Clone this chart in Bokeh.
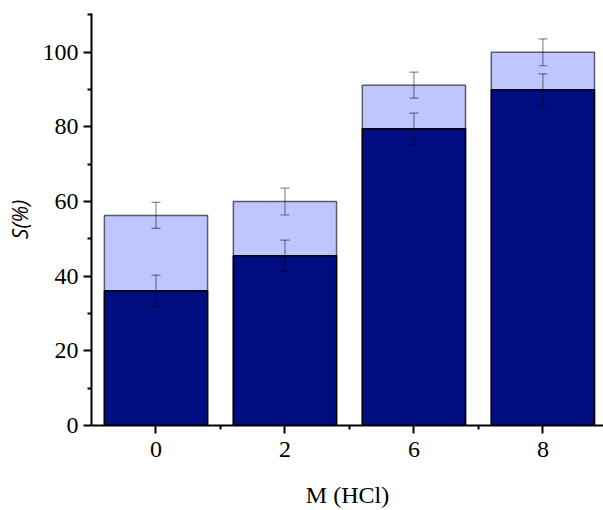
from bokeh.plotting import figure
from bokeh.models import Range1d, FixedTicker, ColumnDataSource, Whisker, TeeHead
from bokeh.embed import file_html
from bokeh.resources import INLINE

categories = ["0", "2", "6", "8"]
dark_values = [36.1, 45.5, 79.5, 90.0]
dark_errors = [4.2, 4.2, 4.2, 4.2]
total_values = [56.3, 60.0, 91.2, 100.0]
total_errors = [3.5, 3.6, 3.5, 3.6]
y_ticks = [0, 20, 40, 60, 80, 100]
y_minor = [10, 30, 50, 70, 90, 110]

xs = list(range(len(categories)))

p = figure(width=603, height=510, output_backend="svg", toolbar_location=None,
           x_range=Range1d(-0.5, 3.47), y_range=Range1d(0, 110.4),
           min_border_left=91, min_border_right=0, min_border_top=13, min_border_bottom=84)
p.outline_line_color = None
p.grid.visible = False
p.background_fill_color = "white"

p.vbar(x=xs, top=total_values, bottom=0, width=0.8, fill_color="#bdc6fe",
       line_color="#5a5a6a", line_width=1.5)
p.vbar(x=xs, top=dark_values, bottom=0, width=0.8, fill_color="#000d80",
       line_color="#000000", line_width=1.5)

src_t = ColumnDataSource(dict(x=xs, lo=[v - e for v, e in zip(total_values, total_errors)],
                              hi=[v + e for v, e in zip(total_values, total_errors)]))
src_d = ColumnDataSource(dict(x=xs, lo=[v - e for v, e in zip(dark_values, dark_errors)],
                              hi=[v + e for v, e in zip(dark_values, dark_errors)]))
for src in (src_t, src_d):
    w = Whisker(base="x", lower="lo", upper="hi", source=src, line_color="black",
                line_alpha=0.45, line_width=1.2, level="overlay",
                upper_head=TeeHead(size=9, line_color="black", line_alpha=0.45, line_width=1.2),
                lower_head=TeeHead(size=9, line_color="black", line_alpha=0.45, line_width=1.2))
    p.add_layout(w)

serif = "Liberation Serif"
p.xaxis.ticker = FixedTicker(ticks=xs, minor_ticks=[0.5, 1.5, 2.5])
p.xaxis.major_label_overrides = {i: c for i, c in enumerate(categories)}
p.yaxis.ticker = FixedTicker(ticks=y_ticks, minor_ticks=y_minor)

for ax in (p.xaxis, p.yaxis):
    ax.axis_line_width = 2
    ax.axis_line_color = "black"
    ax.major_tick_line_width = 2
    ax.minor_tick_line_width = 2
    ax.major_tick_line_color = "black"
    ax.minor_tick_line_color = "black"
    ax.major_tick_in = 0
    ax.major_tick_out = 8
    ax.minor_tick_in = 0
    ax.minor_tick_out = 4
    ax.major_label_text_font = serif
    ax.major_label_text_font_size = "24px"
    ax.major_label_text_color = "black"
    ax.major_label_standoff = 5
    ax.axis_label_text_color = "black"

p.xaxis.major_label_standoff = 8
p.xaxis.axis_label = "M (HCl)"
p.xaxis.axis_label_text_font = serif
p.xaxis.axis_label_text_font_size = "24px"
p.xaxis.axis_label_text_font_style = "normal"
p.xaxis.axis_label_standoff = 22

p.yaxis.axis_label = "S(%)"
p.yaxis.axis_label_text_font = "Open Sans"
p.yaxis.axis_label_text_font_size = "21px"
p.yaxis.axis_label_text_font_style = "italic"
p.yaxis.axis_label_standoff = 6

open("out.html", "w").write(file_html(p, INLINE))
